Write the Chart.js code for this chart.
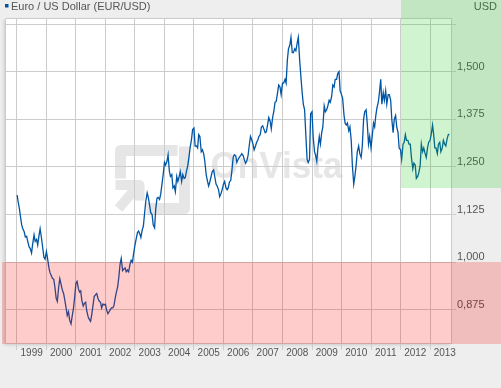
<!DOCTYPE html>
<html><head><meta charset="utf-8">
<script src="https://cdn.jsdelivr.net/npm/chart.js@4.4.0/dist/chart.umd.min.js"></script>
<style>html,body{margin:0;padding:0;background:#eeeeee;overflow:hidden}canvas{display:block}</style>
</head><body>
<canvas id="c" width="501" height="388"></canvas>
<script>
const seriesName = 'Euro / US Dollar (EUR/USD)';
const unitLabel = 'USD';
const watermarkText = 'OnVista';

const dates = [
'1999-01-04','1999-01-15','1999-02-01','1999-02-15','1999-03-01','1999-03-15','1999-04-01','1999-04-15','1999-05-01','1999-05-15','1999-06-01','1999-06-15','1999-07-01','1999-07-15','1999-08-01','1999-08-15','1999-09-01','1999-09-15','1999-10-01','1999-10-15','1999-11-01','1999-11-15','1999-12-01','1999-12-15',
'2000-01-01','2000-01-15','2000-02-01','2000-02-15','2000-03-01','2000-03-15','2000-04-01','2000-04-15','2000-05-01','2000-05-15','2000-06-01','2000-06-15','2000-07-01','2000-07-15','2000-08-01','2000-08-15','2000-09-01','2000-09-15','2000-10-01','2000-10-15','2000-11-01','2000-11-15','2000-12-01','2000-12-15',
'2001-01-01','2001-01-15','2001-02-01','2001-02-15','2001-03-01','2001-03-15','2001-04-01','2001-04-15','2001-05-01','2001-05-15','2001-06-01','2001-06-15','2001-07-01','2001-07-15','2001-08-01','2001-08-15','2001-09-01','2001-09-15','2001-10-01','2001-10-15','2001-11-01','2001-11-15','2001-12-01','2001-12-15',
'2002-01-01','2002-01-15','2002-02-01','2002-02-15','2002-03-01','2002-03-15','2002-04-01','2002-04-15','2002-05-01','2002-05-15','2002-06-01','2002-06-15','2002-07-01','2002-07-15','2002-08-01','2002-08-15','2002-09-01','2002-09-15','2002-10-01','2002-10-15','2002-11-01','2002-11-15','2002-12-01','2002-12-15',
'2003-01-01','2003-01-15','2003-02-01','2003-02-15','2003-03-01','2003-03-15','2003-04-01','2003-04-15','2003-05-01','2003-05-15','2003-06-01','2003-06-15','2003-07-01','2003-07-15','2003-08-01','2003-08-15','2003-09-01','2003-09-15','2003-10-01','2003-10-15','2003-11-01','2003-11-15','2003-12-01','2003-12-15',
'2004-01-01','2004-01-15','2004-02-01','2004-02-15','2004-03-01','2004-03-15','2004-04-01','2004-04-15','2004-05-01','2004-05-15','2004-06-01','2004-06-15','2004-07-01','2004-07-15','2004-08-01','2004-08-15','2004-09-01','2004-09-15','2004-10-01','2004-10-15','2004-11-01','2004-11-15','2004-12-01','2004-12-15',
'2005-01-01','2005-01-15','2005-02-01','2005-02-15','2005-03-01','2005-03-15','2005-04-01','2005-04-15','2005-05-01','2005-05-15','2005-06-01','2005-06-15','2005-07-01','2005-07-15','2005-08-01','2005-08-15','2005-09-01','2005-09-15','2005-10-01','2005-10-15','2005-11-01','2005-11-15','2005-12-01','2005-12-15',
'2006-01-01','2006-01-15','2006-02-01','2006-02-15','2006-03-01','2006-03-15','2006-04-01','2006-04-15','2006-05-01','2006-05-15','2006-06-01','2006-06-15','2006-07-01','2006-07-15','2006-08-01','2006-08-15','2006-09-01','2006-09-15','2006-10-01','2006-10-15','2006-11-01','2006-11-15','2006-12-01','2006-12-15',
'2007-01-01','2007-01-15','2007-02-01','2007-02-15','2007-03-01','2007-03-15','2007-04-01','2007-04-15','2007-05-01','2007-05-15','2007-06-01','2007-06-15','2007-07-01','2007-07-15','2007-08-01','2007-08-15','2007-09-01','2007-09-15','2007-10-01','2007-10-15','2007-11-01','2007-11-15','2007-12-01','2007-12-15',
'2008-01-01','2008-01-15','2008-02-01','2008-02-15','2008-03-01','2008-03-15','2008-04-01','2008-04-15','2008-05-01','2008-05-15','2008-06-01','2008-06-15','2008-07-01','2008-07-15','2008-08-01','2008-08-15','2008-09-01','2008-09-15','2008-10-01','2008-10-15','2008-11-01','2008-11-15','2008-12-01','2008-12-15',
'2009-01-01','2009-01-15','2009-02-01','2009-02-15','2009-03-01','2009-03-15','2009-04-01','2009-04-15','2009-05-01','2009-05-15','2009-06-01','2009-06-15','2009-07-01','2009-07-15','2009-08-01','2009-08-15','2009-09-01','2009-09-15','2009-10-01','2009-10-15','2009-11-01','2009-11-15','2009-12-01','2009-12-15',
'2010-01-01','2010-01-15','2010-02-01','2010-02-15','2010-03-01','2010-03-15','2010-04-01','2010-04-15','2010-05-01','2010-05-15','2010-06-01','2010-06-15','2010-07-01','2010-07-15','2010-08-01','2010-08-15','2010-09-01','2010-09-15','2010-10-01','2010-10-15','2010-11-01','2010-11-15','2010-12-01','2010-12-15',
'2011-01-01','2011-01-15','2011-02-01','2011-02-15','2011-03-01','2011-03-15','2011-04-01','2011-04-15','2011-05-01','2011-05-15','2011-06-01','2011-06-15','2011-07-01','2011-07-15','2011-08-01','2011-08-15','2011-09-01','2011-09-15','2011-10-01','2011-10-15','2011-11-01','2011-11-15','2011-12-01','2011-12-15',
'2012-01-01','2012-01-15','2012-02-01','2012-02-15','2012-03-01','2012-03-15','2012-04-01','2012-04-15','2012-05-01','2012-05-15','2012-06-01','2012-06-15','2012-07-01','2012-07-15','2012-08-01','2012-08-15','2012-09-01','2012-09-15','2012-10-01','2012-10-15','2012-11-01','2012-11-15','2012-12-01','2012-12-15',
'2013-01-01','2013-01-15','2013-02-01','2013-02-15','2013-03-01','2013-03-15','2013-04-01','2013-04-15','2013-05-01','2013-05-15','2013-06-01','2013-06-15','2013-07-01','2013-07-15','2013-08-01','2013-08-15','2013-08-20'
];

const rates = [
1.176,1.160,1.140,1.118,1.098,1.088,1.080,1.066,1.068,1.055,1.040,1.036,1.024,1.048,1.072,1.055,1.060,1.045,1.070,1.088,1.063,1.040,1.013,1.008,
1.028,1.010,0.985,0.972,0.965,0.958,0.955,0.935,0.905,0.897,0.935,0.957,0.942,0.928,0.918,0.902,0.880,0.860,0.870,0.848,0.838,0.858,0.878,0.905,
0.945,0.950,0.930,0.922,0.925,0.900,0.885,0.892,0.895,0.872,0.857,0.850,0.845,0.862,0.888,0.910,0.915,0.918,0.905,0.898,0.895,0.880,0.890,0.888,
0.890,0.875,0.865,0.870,0.875,0.880,0.880,0.885,0.905,0.920,0.935,0.960,0.995,1.010,0.978,0.982,0.985,0.975,0.980,0.975,0.995,1.005,1.000,1.022,
1.045,1.060,1.078,1.082,1.075,1.065,1.085,1.095,1.130,1.160,1.182,1.170,1.150,1.130,1.125,1.098,1.090,1.140,1.168,1.170,1.165,1.178,1.205,1.228,
1.262,1.255,1.265,1.282,1.240,1.225,1.230,1.195,1.200,1.185,1.225,1.212,1.225,1.238,1.212,1.230,1.220,1.222,1.240,1.252,1.278,1.302,1.322,1.348,
1.352,1.305,1.305,1.300,1.335,1.330,1.290,1.295,1.285,1.265,1.230,1.215,1.200,1.210,1.225,1.238,1.242,1.225,1.205,1.200,1.190,1.172,1.180,1.190,
1.205,1.212,1.195,1.190,1.195,1.210,1.215,1.240,1.275,1.282,1.280,1.262,1.270,1.275,1.280,1.285,1.280,1.270,1.260,1.265,1.280,1.305,1.330,1.322,
1.310,1.295,1.305,1.315,1.320,1.330,1.335,1.355,1.358,1.350,1.340,1.342,1.362,1.380,1.370,1.350,1.380,1.395,1.420,1.422,1.445,1.465,1.460,1.440,
1.470,1.470,1.480,1.470,1.530,1.560,1.570,1.590,1.550,1.550,1.560,1.555,1.575,1.590,1.530,1.490,1.445,1.415,1.400,1.340,1.270,1.262,1.270,1.390,
1.395,1.330,1.290,1.280,1.265,1.300,1.330,1.310,1.340,1.355,1.410,1.395,1.400,1.410,1.425,1.420,1.435,1.465,1.460,1.480,1.480,1.495,1.500,1.450,
1.440,1.430,1.385,1.365,1.360,1.365,1.345,1.355,1.320,1.255,1.205,1.225,1.255,1.290,1.305,1.285,1.275,1.305,1.375,1.395,1.400,1.365,1.310,1.330,
1.300,1.330,1.365,1.355,1.385,1.405,1.420,1.445,1.480,1.415,1.445,1.425,1.450,1.415,1.440,1.440,1.425,1.375,1.340,1.375,1.385,1.355,1.340,1.300,
1.295,1.270,1.310,1.315,1.335,1.320,1.320,1.310,1.310,1.275,1.245,1.260,1.255,1.220,1.225,1.235,1.255,1.310,1.290,1.300,1.285,1.275,1.300,1.315,
1.320,1.335,1.360,1.335,1.300,1.300,1.285,1.310,1.315,1.290,1.300,1.320,1.310,1.305,1.325,1.335,1.337
];

const yearTicks = [1999,2000,2001,2002,2003,2004,2005,2006,2007,2008,2009,2010,2011,2012,2013];
const rateTicks = [0.875,1.0,1.125,1.25,1.375,1.5,1.625];
const rateLabelsHidden = [1.625];
const parityLevel = 1.0;          // red zone below parity
const highlightFrom = '2012-01-01'; // green zone start
const highlightLow = 1.196;         // green zone lower bound

function toYear(s){
  const p = s.split('-').map(Number);
  const t = Date.UTC(p[0], p[1]-1, p[2]);
  const a = Date.UTC(p[0],0,1), b = Date.UTC(p[0]+1,0,1);
  return p[0] + (t-a)/(b-a);
}

const FONT = '"Liberation Sans", Arial, Helvetica, sans-serif';
const TXT = '#555555';
const GRID = '#cccccc';
const LINE = '#0055a5';

const decor = {
  id: 'decor',
  beforeDraw(chart){
    const {ctx, chartArea:a} = chart;
    ctx.save();
    ctx.fillStyle = '#eeeeee';
    ctx.fillRect(0,0,chart.width,chart.height);
    ctx.shadowColor = 'rgba(0,0,0,0.15)';
    ctx.shadowBlur = 3; ctx.shadowOffsetX = -1; ctx.shadowOffsetY = 2;
    ctx.fillStyle = '#ffffff';
    ctx.fillRect(a.left-1, a.top, a.right-a.left+1, a.bottom-a.top);
    ctx.restore();
    // watermark
    const cx = (a.left+a.right)/2, cy = (a.top+a.bottom)/2;
    ctx.save();
    ctx.strokeStyle = '#e6e6e6'; ctx.fillStyle = '#e6e6e6';
    ctx.lineWidth = 11; ctx.lineJoin = 'round'; ctx.lineCap = 'butt';
    ctx.beginPath();
    ctx.moveTo(cx-108, cy-2); ctx.lineTo(cx-108, cy-30); ctx.lineTo(cx-51, cy-30);
    ctx.stroke();
    ctx.beginPath();
    ctx.moveTo(cx-44, cy-34); ctx.lineTo(cx-44, cy+28); ctx.lineTo(cx-82, cy+28);
    ctx.stroke();
    ctx.lineWidth = 10;
    ctx.beginPath();
    ctx.moveTo(cx-113, cy+4.5); ctx.lineTo(cx-89, cy+4.5); ctx.lineTo(cx-89, cy+20);
    ctx.stroke();
    ctx.beginPath();
    ctx.moveTo(cx-91, cy+6); ctx.lineTo(cx-110, cy+28);
    ctx.stroke();
    ctx.font = 'bold 37px ' + FONT;
    const w = ctx.measureText(watermarkText).width;
    ctx.translate(cx-18, cy-2.5);
    ctx.scale(132/w, 1);
    ctx.textBaseline = 'alphabetic';
    ctx.fillText(watermarkText, 0, 0);
    ctx.restore();
  },
  afterDraw(chart){
    const {ctx, chartArea:a} = chart;
    const xs = chart.scales.x, ys = chart.scales.y;
    ctx.save();
    // plot frame top/left
    ctx.strokeStyle = GRID; ctx.lineWidth = 1;
    ctx.beginPath();
    ctx.moveTo(a.left-0.5, a.bottom); ctx.lineTo(a.left-0.5, a.top+0.5); ctx.lineTo(a.right, a.top+0.5);
    ctx.stroke();
    // legend
    ctx.fillStyle = LINE;
    ctx.fillRect(5, 4, 3.5, 3.5);
    ctx.fillStyle = TXT;
    ctx.font = '11px ' + FONT;
    ctx.textBaseline = 'alphabetic';
    ctx.textAlign = 'left';
    ctx.fillText(seriesName, 11, 10);
    ctx.textAlign = 'right';
    ctx.fillText(unitLabel, 497, 10);
    // red zone (below parity)
    const yPar = Math.round(ys.getPixelForValue(parityLevel));
    ctx.fillStyle = 'rgba(255,0,0,0.2)';
    ctx.fillRect(2, yPar, chart.width-2, a.bottom+1-yPar);
    // green zone
    const xg = Math.round(xs.getPixelForValue(toYear(highlightFrom)));
    const yg = Math.round(ys.getPixelForValue(highlightLow));
    ctx.fillStyle = 'rgba(20,200,20,0.2)';
    ctx.fillRect(xg, 0, chart.width-xg, yg);
    ctx.restore();
  }
};

new Chart(document.getElementById('c'), {
  type: 'line',
  data: {
    datasets: [{
      label: seriesName,
      data: dates.map((d,i)=>({x: toYear(d), y: rates[i]})),
      borderColor: LINE,
      borderWidth: 1.3,
      pointRadius: 0,
      tension: 0,
      fill: false
    }]
  },
  options: {
    responsive: false,
    animation: false,
    devicePixelRatio: 1,
    layout: { padding: { top: 18, left: 6, right: 0, bottom: 0 } },
    plugins: { legend: { display: false }, tooltip: { enabled: false } },
    scales: {
      x: {
        type: 'linear',
        position: 'bottom',
        min: 1998.63,
        max: 2013.71,
        afterBuildTicks(s){ s.ticks = yearTicks.map(v=>({value:v})); },
        afterFit(s){ s.height = 45; },
        grid: { color: GRID, lineWidth: 1, tickLength: 7, drawTicks: true },
        border: { display: true, color: GRID },
        ticks: {
          autoSkip: false, maxRotation: 0, minRotation: 0,
          labelOffset: 14.75, padding: -3,
          color: TXT, font: { family: FONT, size: 10 },
          callback: v => String(v)
        }
      },
      y: {
        type: 'linear',
        position: 'right',
        min: 0.788,
        max: 1.641,
        afterBuildTicks(s){ s.ticks = rateTicks.map(v=>({value:v})); },
        afterFit(s){ s.width = 50; },
        grid: { color: GRID, lineWidth: 1, tickLength: 5 },
        border: { display: true, color: GRID },
        ticks: {
          labelOffset: -5, padding: 1,
          color: TXT, font: { family: FONT, size: 11 },
          callback: v => rateLabelsHidden.includes(v) ? '' : v.toFixed(3).replace('.', ',')
        }
      }
    }
  },
  plugins: [decor]
});
</script>
</body></html>
